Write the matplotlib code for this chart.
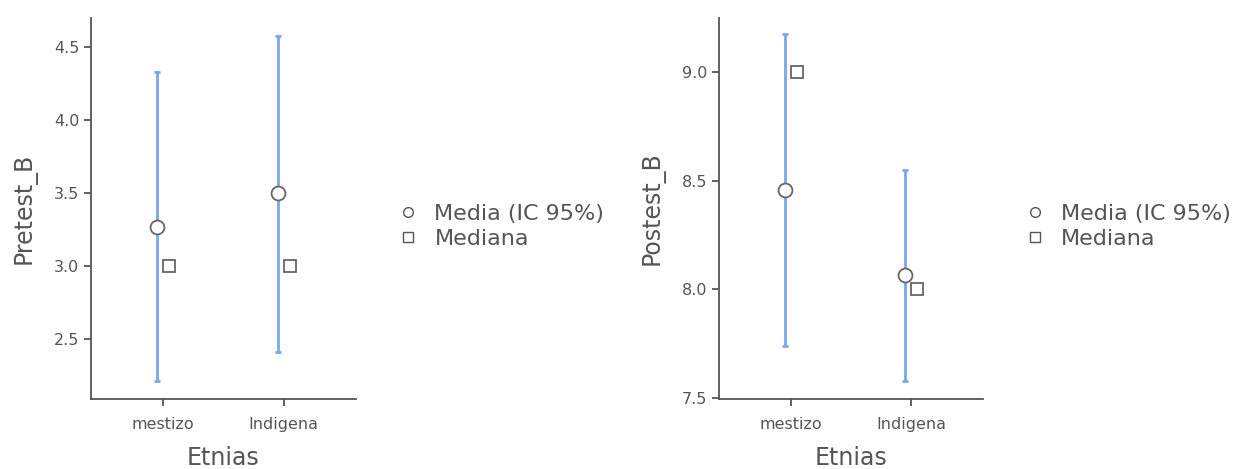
import matplotlib
matplotlib.use("Agg")
import matplotlib.pyplot as plt
from matplotlib.lines import Line2D

# datos
etnias = ["mestizo", "Indigena"]

pre_media = [3.27, 3.50]
pre_ic_inf = [2.21, 2.41]
pre_ic_sup = [4.33, 4.58]
pre_mediana = [3.0, 3.0]

post_media = [8.456, 8.065]
post_ic_inf = [7.737, 7.576]
post_ic_sup = [9.175, 8.548]
post_mediana = [9.0, 8.0]

azul = "#7aa6ec"
gris = "#555555"

plt.rcParams['font.family'] = ['DejaVu Sans']

fig = plt.figure(figsize=(12.39, 4.69), dpi=100)


def panel(ax, media, inf, sup, mediana, ylabel, ylim, yticks):
    x = list(range(len(etnias)))
    xm = [i - 0.05 for i in x]
    xd = [i + 0.05 for i in x]
    err = [[m - a for m, a in zip(media, inf)], [b - m for m, b in zip(media, sup)]]
    ax.errorbar(xm, media, yerr=err, fmt='none', ecolor=azul, elinewidth=2,
                capsize=2, capthick=2, zorder=2)
    ax.plot(xm, media, 'o', ms=10, mfc='white', mec='#666666', mew=1.3, zorder=3)
    ax.plot(xd, mediana, 's', ms=8, mfc='white', mec='#666666', mew=1.3, zorder=3)
    ax.set_xlim(-0.6, 1.6)
    ax.set_ylim(*ylim)
    ax.set_yticks(yticks)
    ax.set_xticks(x)
    ax.set_xticklabels(etnias)
    ax.spines['top'].set_visible(False)
    ax.spines['right'].set_visible(False)
    for s in ['left', 'bottom']:
        ax.spines[s].set_color(gris)
        ax.spines[s].set_linewidth(1.3)
    ax.tick_params(colors=gris, labelcolor='#555555', labelsize=11.5, length=5, width=1.3)
    ax.tick_params(axis='x', pad=8)
    ax.set_xlabel("Etnias", fontsize=17, color='#555555', labelpad=10)
    ax.set_ylabel(ylabel, fontsize=17, color='#555555', labelpad=12)
    h = [Line2D([], [], ls='none', marker='o', ms=7, mfc='white', mec='#555555', mew=1),
         Line2D([], [], ls='none', marker='s', ms=7, mfc='white', mec='#555555', mew=1)]
    ax.legend(h, ["Media (IC 95%)", "Mediana"], loc='center left', bbox_to_anchor=(1.12, 0.453),
              frameon=False, fontsize=16, labelcolor='#555555', handlelength=0.8,
              handletextpad=0.8, labelspacing=0.25, borderpad=0)


ax1 = fig.add_axes([0.0734, 0.1493, 0.2139, 0.8123])
panel(ax1, pre_media, pre_ic_inf, pre_ic_sup, pre_mediana, "Pretest_B",
      (2.09, 4.70), [2.5, 3.0, 3.5, 4.0, 4.5])

ax2 = fig.add_axes([0.5803, 0.1493, 0.2131, 0.8123])
panel(ax2, post_media, post_ic_inf, post_ic_sup, post_mediana, "Postest_B",
      (7.495, 9.25), [7.5, 8.0, 8.5, 9.0])

fig.savefig("out.png", dpi=100)
